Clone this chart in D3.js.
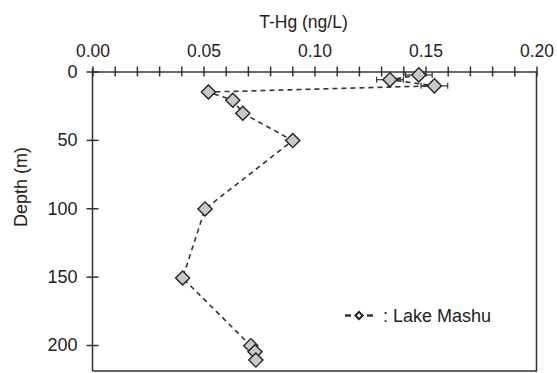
<!DOCTYPE html>
<html>
<head>
<meta charset="utf-8">
<script src="https://cdn.jsdelivr.net/npm/d3@7"></script>
<style>
  body { margin: 0; background: #fff; }
  text { font-family: Arial, "Liberation Sans", sans-serif; fill: #222; }
</style>
</head>
<body>
<script>
// T-Hg profile, Lake Mashu
var thg   = [0.147, 0.134, 0.154, 0.0522, 0.0632, 0.0677, 0.0902, 0.0507, 0.0406, 0.0713, 0.0732, 0.0736];
var depth = [2.5, 6, 10.5, 15, 21, 30.5, 50.5, 100.5, 151, 200.5, 205, 211];
var err   = [0.006, 0.006, 0.006, 0, 0, 0, 0, 0, 0, 0, 0, 0];
var xMajor = [0, 0.05, 0.10, 0.15, 0.20];
var yTicks = [0, 50, 100, 150, 200];

var width = 557,
    height = 373;

var svg = d3.select('body')
  .append('svg')
    .attr('width', width)
    .attr('height', height)

var x = d3.scaleLinear().domain([0, 0.2]).range([92.5, 536.5]);
var y = d3.scaleLinear().domain([0, 219]).range([71.5, 371]);

var pts = thg.map(function(v, i){ return {v: v, d: depth[i], e: err[i]}; });

// box (right + bottom)
svg.append('path')
    .attr('d', 'M' + x(0.2) + ',' + y(0) + 'V' + y(219) + 'H' + x(0))
    .attr('fill', 'none')
    .attr('stroke', '#333')
    .attr('stroke-width', 1.5)

// top axis, minor ticks every 0.01
var minor = d3.range(0, 21).map(function(i){ return i / 100; });
var xAxis = svg.append('g')
    .attr('transform', 'translate(0,' + y(0) + ')')
    .call(d3.axisTop(x)
      .tickValues(minor)
      .tickSizeInner(5)
      .tickSizeOuter(0)
      .tickPadding(10)
      .tickFormat(function(d){
        var m = xMajor.some(function(t){ return Math.abs(t - d) < 1e-9; });
        return m ? d3.format('.2f')(d) : '';
      }))
xAxis.selectAll('.tick line').attr('y1', 5)
xAxis.selectAll('path, line').attr('stroke', '#333').attr('stroke-width', 1.5)
xAxis.selectAll('text').style('font-size', '17.5px').attr('fill', '#222')

// left axis
var yAxis = svg.append('g')
    .attr('transform', 'translate(' + x(0) + ',0)')
    .call(d3.axisLeft(y)
      .tickValues(yTicks)
      .tickSizeInner(6)
      .tickSizeOuter(0)
      .tickPadding(9))
yAxis.selectAll('.tick line').attr('x1', 6)
yAxis.selectAll('path, line').attr('stroke', '#333').attr('stroke-width', 1.5)
yAxis.select('.domain').attr('d', 'M0,' + (y(0) - 3) + 'V' + y(219))
yAxis.selectAll('text').style('font-size', '18px').attr('fill', '#222')

// titles
svg.append('text')
    .attr('x', 303.5)
    .attr('y', 27.5)
    .attr('text-anchor', 'middle')
    .style('font-size', '17.5px')
    .text('T-Hg (ng/L)')

svg.append('text')
    .attr('transform', 'translate(27,187) rotate(-90)')
    .attr('text-anchor', 'middle')
    .style('font-size', '18px')
    .text('Depth (m)')

// error bars
var eb = svg.append('g')
    .attr('stroke', '#333')
    .attr('stroke-width', 1.2)
  .selectAll('g')
    .data(pts.filter(function(p){ return p.e > 0; })).enter()
  .append('g')
eb.append('line')
    .attr('x1', function(d){ return x(d.v - d.e); })
    .attr('x2', function(d){ return x(d.v + d.e); })
    .attr('y1', function(d){ return y(d.d); })
    .attr('y2', function(d){ return y(d.d); })
eb.append('line')
    .attr('x1', function(d){ return x(d.v - d.e); })
    .attr('x2', function(d){ return x(d.v - d.e); })
    .attr('y1', function(d){ return y(d.d) - 3; })
    .attr('y2', function(d){ return y(d.d) + 3; })
eb.append('line')
    .attr('x1', function(d){ return x(d.v + d.e); })
    .attr('x2', function(d){ return x(d.v + d.e); })
    .attr('y1', function(d){ return y(d.d) - 3; })
    .attr('y2', function(d){ return y(d.d) + 3; })

// dashed profile line
svg.append('path')
    .datum(pts)
    .attr('d', d3.line()
      .x(function(d){ return x(d.v); })
      .y(function(d){ return y(d.d); }))
    .attr('fill', 'none')
    .attr('stroke', '#333')
    .attr('stroke-width', 1.6)
    .attr('stroke-dasharray', '5,4')

// diamonds
var diamond = d3.symbol().type(d3.symbolSquare).size(100);
svg.selectAll('.pt')
    .data(pts).enter()
  .append('path')
    .attr('class', 'pt')
    .attr('d', diamond)
    .attr('transform', function(d){ return 'translate(' + x(d.v) + ',' + y(d.d) + ') rotate(45)'; })
    .attr('fill', '#c8c8c8')
    .attr('stroke', '#222')
    .attr('stroke-width', 1.4)

// legend
var lg = svg.append('g').attr('transform', 'translate(345,315.5)')
lg.append('line').attr('x1', 0).attr('x2', 6).attr('stroke', '#333').attr('stroke-width', 2.5)
lg.append('line').attr('x1', 22).attr('x2', 28).attr('stroke', '#333').attr('stroke-width', 2.5)
lg.append('path')
    .attr('d', d3.symbol().type(d3.symbolSquare).size(26))
    .attr('transform', 'translate(14,0) rotate(45)')
    .attr('fill', '#fff')
    .attr('stroke', '#222')
    .attr('stroke-width', 2)
lg.append('text')
    .attr('x', 38)
    .attr('y', 6.5)
    .style('font-size', '18px')
    .text(': Lake Mashu')
</script>
</body>
</html>
